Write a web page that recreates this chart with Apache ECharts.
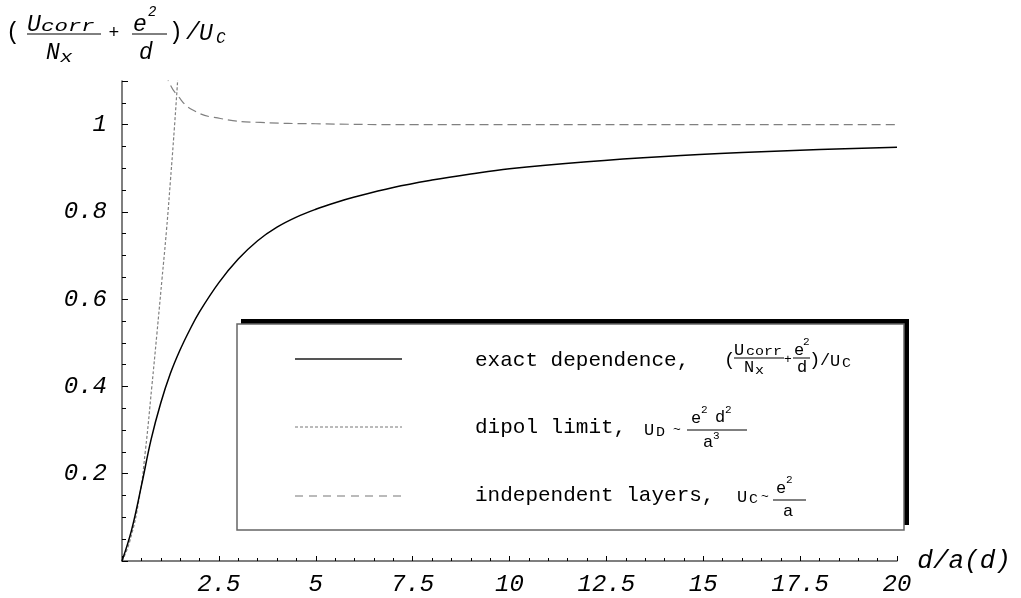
<!DOCTYPE html>
<html>
<head>
<meta charset="utf-8">
<script src="https://cdn.jsdelivr.net/npm/echarts@6/dist/echarts.min.js"></script>
<style>
html,body{margin:0;padding:0;background:#fff;}
#chart{width:1021px;height:598px;}
</style>
</head>
<body>
<div id="chart"></div>
<script>
// ---- data ----
var exactData = [[0,0],[0.25,0.072],[0.5,0.172],[0.75,0.278],[1.0,0.362],[1.25,0.43],[1.5,0.484],[1.75,0.53],[2.0,0.571],[2.5,0.638],[3.0,0.692],[3.5,0.734],[4.0,0.765],[4.5,0.788],[5,0.806],[5.5,0.821],[6,0.834],[7,0.856],[8,0.873],[9,0.887],[10,0.899],[12,0.915],[14,0.927],[16,0.936],[18,0.943],[20,0.948]];
var dipolData = [[0,0],[0.2,0.045],[0.45,0.147],[0.6,0.25],[0.77,0.40],[0.9,0.52],[1.03,0.644],[1.15,0.76],[1.25,0.872],[1.35,0.99],[1.45,1.12]];
var layersData = [[1.15,1.12],[1.2,1.1],[1.43,1.067],[1.84,1.033],[2.54,1.014],[3.57,1.005],[5,1.002],[7.5,1.0],[10,1.0],[15,1.0],[20,1.0]];
var xTickLabels = ['2.5','5','7.5','10','12.5','15','17.5','20'];
var yTickLabels = ['0.2','0.4','0.6','0.8','1'];
var xName = 'd/a(d)';
var legendTexts = ['exact dependence,', 'dipol limit,', 'independent layers,'];

var MONO = '"Liberation Mono", "DejaVu Sans Mono", monospace';
function tx(x, y, s, size, opt) {
  opt = opt || {};
  var al = opt.al || 'left';
  return {
    type: 'text', x: x, y: y, scaleX: opt.sx || 1, z: 120,
    style: {
      text: s, font: (opt.it ? 'italic ' : '') + size + 'px ' + MONO, fill: '#000',
      align: al, verticalAlign: 'middle', textAlign: al, textVerticalAlign: 'middle'
    }
  };
}
function ln(x1, y1, x2, y2, stroke, w, dash) {
  var st = { stroke: stroke, lineWidth: w };
  if (dash) st.lineDash = dash;
  return { type: 'line', z: 120, shape: { x1: x1, y1: y1, x2: x2, y2: y2 }, style: st };
}

var graphics = [
  // y-axis title: ( Ucorr/Nx + e^2/d ) / U_C
  tx(6, 33, '(', 23),
  tx(27, 25, 'U', 23, {it:1}),
  tx(41, 27, 'corr', 16, {it:1, sx:1.4}),
  ln(27, 34, 101, 34, '#000', 1),
  tx(46, 53, 'N', 23, {it:1}),
  tx(60, 58, 'x', 16, {it:1, sx:1.3}),
  tx(114, 33, '+', 18, {al:'center'}),
  tx(133, 25, 'e', 23, {it:1}),
  tx(148, 12, '2', 14, {it:1}),
  ln(132, 34, 167, 34, '#000', 1),
  tx(139, 53, 'd', 23, {it:1}),
  tx(169, 33, ')', 23),
  tx(186, 33, '/', 23, {it:1}),
  tx(199, 34, 'U', 23, {it:1}),
  tx(216, 39, 'C', 16, {it:1}),

  // legend box with offset black shadow
  { type: 'rect', z: 110, shape: { x: 241, y: 319, width: 668, height: 206 }, style: { fill: '#000' } },
  { type: 'rect', z: 111, shape: { x: 237, y: 324, width: 667, height: 206 }, style: { fill: '#fff', stroke: '#666', lineWidth: 1.5 } },

  // legend samples
  ln(295, 359, 402, 359, '#555', 2),
  ln(295, 427, 402, 427, '#777', 1, [3, 2]),
  ln(295, 496, 402, 496, '#777', 1.2, [8, 6]),

  // row 1
  tx(475, 360, legendTexts[0], 21),
  tx(724, 360, '(', 19),
  tx(734, 350, 'U', 17),
  tx(746, 352, 'corr', 12, {sx:1.25}),
  ln(734, 358, 784, 358, '#000', 1),
  tx(744, 367, 'N', 17),
  tx(755, 371, 'x', 12, {sx:1.25}),
  tx(788, 360, '+', 13, {al:'center'}),
  tx(794, 350, 'e', 17),
  tx(803, 342, '2', 11),
  ln(793, 358, 810, 358, '#000', 1),
  tx(797, 367, 'd', 17),
  tx(809, 360, ')', 19),
  tx(820, 360, '/', 17),
  tx(830, 361, 'U', 17),
  tx(842, 364, 'C', 12, {sx:1.25}),

  // row 2
  tx(475, 427, legendTexts[1], 21),
  tx(644, 430, 'U', 17),
  tx(656, 433, 'D', 12, {sx:1.25}),
  tx(673, 430, '~', 13),
  ln(687, 430, 747, 430, '#000', 1),
  tx(691, 418, 'e', 17),
  tx(701, 410, '2', 11),
  tx(715, 417, 'd', 17),
  tx(725, 410, '2', 11),
  tx(703, 442, 'a', 17),
  tx(713, 436, '3', 11),

  // row 3
  tx(475, 495, legendTexts[2], 21),
  tx(737, 497, 'U', 17),
  tx(749, 500, 'C', 12, {sx:1.25}),
  tx(761, 497, '~', 13),
  ln(773, 500, 806, 500, '#000', 1),
  tx(776, 488, 'e', 17),
  tx(786, 480, '2', 11),
  tx(783, 511, 'a', 17)
];

function isMult(v, step) { var q = v / step; return Math.abs(q - Math.round(q)) < 1e-6; }

var option = {
  animation: false,
  backgroundColor: '#fff',
  grid: { left: 122, right: 124, top: 81, bottom: 37 },
  xAxis: {
    type: 'value', min: 0, max: 20, interval: 2.5,
    name: xName, nameLocation: 'end', nameGap: 20,
    nameTextStyle: { fontFamily: MONO, fontStyle: 'italic', fontSize: 26, color: '#000', align: 'left', verticalAlign: 'middle', padding: [4, 0, 0, 0] },
    axisLine: { show: true, lineStyle: { color: '#555', width: 1.5 } },
    axisTick: { show: true, inside: true, length: 5, lineStyle: { color: '#000', width: 1 } },
    minorTick: { show: true, splitNumber: 5, length: 3, lineStyle: { color: '#000', width: 1 } },
    splitLine: { show: false },
    axisLabel: {
      margin: 12, fontFamily: MONO, fontStyle: 'italic', fontSize: 24, color: '#000',
      formatter: function (v) { var i = Math.round(v / 2.5) - 1; return (i >= 0 && isMult(v, 2.5)) ? xTickLabels[i] : ''; }
    }
  },
  yAxis: [{
    type: 'value', min: 0, max: 1.1, interval: 0.05,
    axisLine: { show: true, lineStyle: { color: '#555', width: 1.5 } },
    axisTick: { show: true, inside: true, length: 4, interval: 0, lineStyle: { color: '#000', width: 1 } },
    splitLine: { show: false },
    axisLabel: {
      margin: 15, interval: 0, fontFamily: MONO, fontStyle: 'italic', fontSize: 24, color: '#000',
      formatter: function (v) {
        if (v < 1e-9 || !isMult(v, 0.2) || v > 1.05) return '';
        var i = Math.round(v / 0.2) - 1; return yTickLabels[i];
      }
    }
  }, {
    type: 'value', min: 0, max: 1.1, interval: 0.2, position: 'left', offset: 0,
    axisLine: { show: false },
    axisTick: { show: true, inside: true, length: 6, lineStyle: { color: '#000', width: 1 } },
    splitLine: { show: false },
    axisLabel: { show: false }
  }],
  series: [{
    name: 'exact', type: 'line', data: exactData, smooth: 0.4, showSymbol: false, symbol: 'none',
    lineStyle: { color: '#000', width: 1.5 }, z: 5
  }, {
    name: 'dipol', type: 'line', data: dipolData, smooth: true, showSymbol: false, symbol: 'none',
    lineStyle: { color: '#808080', width: 1.2, type: [3, 2] }, z: 4
  }, {
    name: 'layers', type: 'line', data: layersData, smooth: true, showSymbol: false, symbol: 'none',
    lineStyle: { color: '#808080', width: 1.2, type: [9, 5] }, z: 4
  }],
  graphic: graphics
};

var chart = echarts.init(document.getElementById('chart'), null, { renderer: 'canvas' });
chart.setOption(option);
</script>
</body>
</html>
